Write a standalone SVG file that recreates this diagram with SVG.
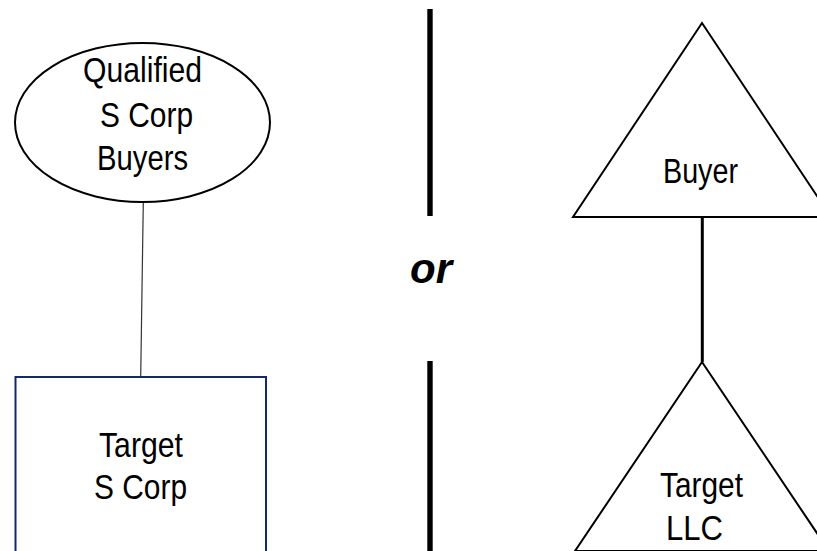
<svg xmlns="http://www.w3.org/2000/svg" width="817" height="551" viewBox="0 0 817 551">
<style>
.t{font-family:"Liberation Sans Narrow","Liberation Sans",Arial,sans-serif;font-size:35px;fill:#000;text-anchor:middle}
.shape{fill:#fff;stroke:#000;stroke-width:2}
</style>
<rect width="817" height="551" fill="#fff"/>
<g id="connectors">
<line x1="143.3" y1="202" x2="140.7" y2="377" stroke="#333" stroke-width="1.2"/>
<line x1="702.3" y1="217" x2="702.3" y2="362" stroke="#000" stroke-width="3"/>
</g>
<g id="divider">
<line x1="430" y1="9" x2="430" y2="216" stroke="#000" stroke-width="5.4"/>
<line x1="430" y1="361" x2="430" y2="551" stroke="#000" stroke-width="5.4"/>
<text x="431" y="283" font-family="Liberation Sans,Arial,sans-serif" font-size="42" font-weight="bold" font-style="italic" text-anchor="middle">or</text>
</g>
<g id="qualified-buyers">
<ellipse cx="142.5" cy="122.5" rx="127.5" ry="79.5" class="shape" stroke-width="1.6"/>
<text class="t" x="142.5" y="82" textLength="119" lengthAdjust="spacingAndGlyphs">Qualified</text>
<text class="t" x="146.5" y="127" textLength="93" lengthAdjust="spacingAndGlyphs">S Corp</text>
<text class="t" x="142.5" y="170" textLength="91" lengthAdjust="spacingAndGlyphs">Buyers</text>
</g>
<g id="target-s-corp">
<rect x="15.5" y="377" width="250.5" height="190" fill="#fff" stroke="#13296b" stroke-width="2"/>
<text class="t" x="141" y="457" textLength="84" lengthAdjust="spacingAndGlyphs">Target</text>
<text class="t" x="140.5" y="499" textLength="93" lengthAdjust="spacingAndGlyphs">S Corp</text>
</g>
<g id="buyer">
<polygon points="702,23 573,217 831,217" class="shape"/>
<text class="t" x="700.5" y="183" textLength="75" lengthAdjust="spacingAndGlyphs">Buyer</text>
</g>
<g id="target-llc">
<polygon points="702,362 575,551 829,551" class="shape"/>
<text class="t" x="701.5" y="497" textLength="83" lengthAdjust="spacingAndGlyphs">Target</text>
<text class="t" x="694.5" y="540" textLength="57" lengthAdjust="spacingAndGlyphs">LLC</text>
</g>
</svg>
